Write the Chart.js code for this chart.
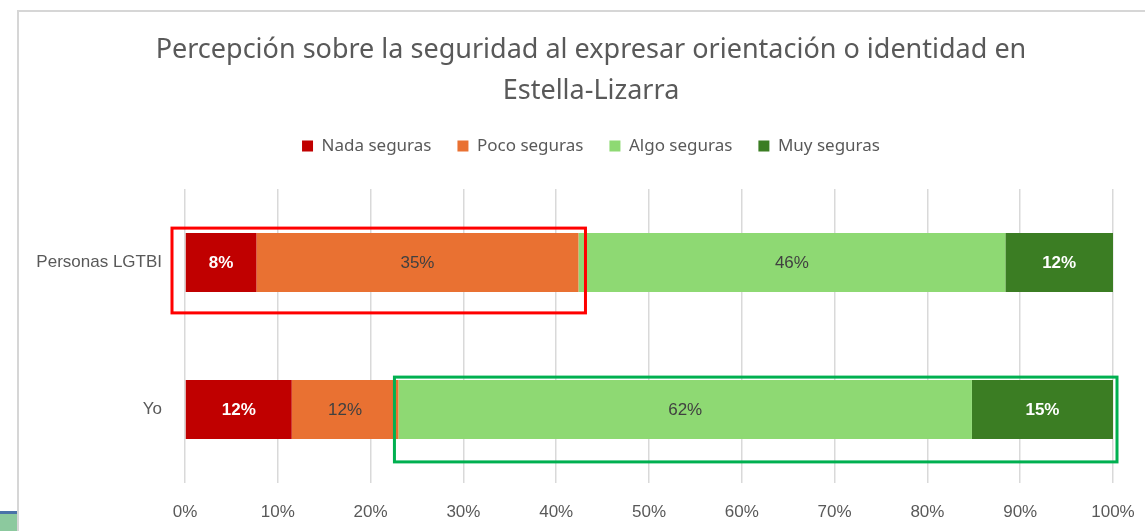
<!DOCTYPE html>
<html lang="es">
<head>
  <meta charset="UTF-8" />
  <title>Percepción sobre la seguridad</title>
  <script src="https://cdn.jsdelivr.net/npm/chart.js"></script>
  <style>
    html, body { margin: 0; padding: 0; background: #fff; overflow: hidden; }
    body { width: 1145px; height: 531px; position: relative; }
    #wrap { position: absolute; left: 0; top: 0; width: 1182px; height: 531px; }
    #frame { position: absolute; left: 17px; top: 10px; width: 1200px; height: 600px;
             border-left: 2px solid #d6d6d6; border-top: 2px solid #d6d6d6; pointer-events: none; }
    #corner { position: absolute; left: 0; top: 511px; width: 17px; height: 20px;
              background: #8cc99e; border-top: 3px solid #4a72a8; box-sizing: border-box; }
  </style>
</head>
<body>
  <div id="wrap"><canvas id="grafico"></canvas></div>
  <div id="frame"></div>
  <div id="corner"></div>

  <script>
    // datos (porcentajes)
    const categorias = ['Personas LGTBI', 'Yo'];
    const nadaSeguras = [7.7, 11.5];
    const pocoSeguras = [34.7, 11.5];
    const algoSeguras = [46.0, 61.8];
    const muySeguras = [11.6, 15.2];
    const ticksX = [0, 10, 20, 30, 40, 50, 60, 70, 80, 90, 100];

    const colores = ['#C00000', '#E97132', '#8ED973', '#3B7D23'];
    const colorEtiqueta = ['#ffffff', '#404040', '#404040', '#ffffff'];
    const pesoEtiqueta = ['bold', 'normal', 'normal', 'bold'];

    // etiquetas de porcentaje dentro de cada segmento
    const etiquetas = {
      id: 'etiquetas',
      afterDatasetsDraw(chart) {
        const ctx = chart.ctx;
        ctx.save();
        ctx.textAlign = 'center';
        ctx.textBaseline = 'middle';
        chart.data.datasets.forEach((ds, i) => {
          ctx.font = pesoEtiqueta[i] + ' 17px "Liberation Sans", Arial, sans-serif';
          chart.getDatasetMeta(i).data.forEach((bar, j) => {
            const p = bar.getProps(['x', 'base', 'y'], true);
            ctx.fillStyle = colorEtiqueta[i];
            ctx.fillText(Math.round(ds.data[j]) + '%', (p.x + p.base) / 2, p.y + 1);
          });
        });
        ctx.restore();
      }
    };

    // recuadros de resaltado
    const recuadros = {
      id: 'recuadros',
      afterDraw(chart) {
        const ctx = chart.ctx;
        const x = chart.scales.x, y = chart.scales.y;
        const h = chart.getDatasetMeta(0).data[0].height;
        ctx.save();
        ctx.lineWidth = 3;

        // Personas LGTBI: nada + poco seguras
        const finPoco = nadaSeguras[0] + pocoSeguras[0];
        const y0 = y.getPixelForValue(0);
        ctx.strokeStyle = '#FF0000';
        ctx.strokeRect(x.getPixelForValue(0) - 13, y0 - h / 2 - 5,
                       x.getPixelForValue(finPoco) - x.getPixelForValue(0) + 20, h + 26);

        // Yo: algo + muy seguras
        const iniAlgo = nadaSeguras[1] + pocoSeguras[1];
        const y1 = y.getPixelForValue(1);
        ctx.strokeStyle = '#00B050';
        ctx.strokeRect(x.getPixelForValue(iniAlgo) - 4, y1 - h / 2 - 3,
                       x.getPixelForValue(100) - x.getPixelForValue(iniAlgo) + 8, h + 26);
        ctx.restore();
      }
    };

    // espacio extra entre la leyenda y el área del gráfico
    const espacioLeyenda = {
      id: 'espacioLeyenda',
      beforeLayout(chart) {
        const lg = chart.legend;
        if (lg && !lg._conEspacio) {
          const fitOriginal = lg.fit;
          lg.fit = function () { fitOriginal.call(this); this.height += 24.5; };
          lg._conEspacio = true;
        }
      }
    };

    const series = [
      ['Nada seguras', nadaSeguras],
      ['Poco seguras', pocoSeguras],
      ['Algo seguras', algoSeguras],
      ['Muy seguras', muySeguras]
    ];

    const ctx = document.getElementById('grafico').getContext('2d');
    new Chart(ctx, {
      type: 'bar',
      data: {
        labels: categorias,
        datasets: series.map((s, i) => ({
          label: s[0],
          data: s[1],
          backgroundColor: colores[i],
          barPercentage: 0.4,
          categoryPercentage: 1
        }))
      },
      options: {
        indexAxis: 'y',
        responsive: true,
        maintainAspectRatio: false,
        animation: false,
        layout: { padding: 0 },
        scales: {
          x: {
            stacked: true,
            min: 0,
            max: 100,
            afterBuildTicks(scale) { scale.ticks = ticksX.map(v => ({ value: v })); },
            afterFit(scale) { scale.height = 48; },
            grid: { color: '#d9d9d9', lineWidth: 1.5, drawTicks: false },
            border: { display: false },
            ticks: {
              padding: 19,
              color: '#595959',
              font: { family: '"Liberation Sans", Arial, sans-serif', size: 17 },
              callback: v => v + '%'
            }
          },
          y: {
            stacked: true,
            afterFit(scale) { scale.width = 185; },
            grid: { display: false, drawTicks: false },
            border: { display: false },
            ticks: {
              padding: 23,
              color: '#595959',
              font: { family: '"Liberation Sans", Arial, sans-serif', size: 17 }
            }
          },
          // eje vacío a la derecha: deja el margen del área de trazado
          margenDerecho: {
            type: 'category',
            position: 'right',
            afterFit(scale) { scale.width = 69; },
            grid: { display: false, drawTicks: false },
            border: { display: false },
            ticks: { display: false }
          }
        },
        plugins: {
          title: {
            display: true,
            text: ['Percepción sobre la seguridad al expresar orientación o identidad en', 'Estella-Lizarra'],
            color: '#595959',
            font: { family: '"Noto Sans", sans-serif', size: 27, weight: 'normal', lineHeight: 41 / 27 },
            padding: { top: 29.5, bottom: 0 }
          },
          legend: {
            position: 'top',
            labels: {
              color: '#595959',
              font: { family: '"Noto Sans", sans-serif', size: 17 },
              boxWidth: 11,
              boxHeight: 11,
              padding: 26
            }
          },
          tooltip: { enabled: false }
        }
      },
      plugins: [etiquetas, recuadros, espacioLeyenda]
    });
  </script>
</body>
</html>
